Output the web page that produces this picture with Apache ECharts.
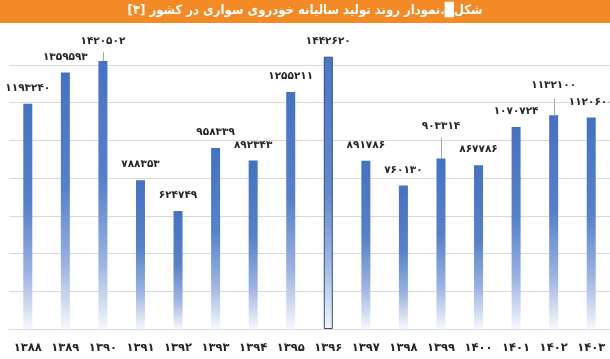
<!DOCTYPE html>
<html>
<head>
<meta charset="utf-8">
<script src="https://cdn.jsdelivr.net/npm/echarts@6/dist/echarts.min.js"></script>
<style>html,body{margin:0;padding:0;background:#fff}#c{width:610px;height:359px}</style>
</head>
<body>
<div id="c"></div>
<script>
const titleText = 'شکل█.نمودار روند تولید سالیانه خودروی سواری در کشور [۳]';
const years = ['1388','1389','1390','1391','1392','1393','1394','1395','1396','1397','1398','1399','1400','1401','1402','1403'];
const production = [1193240, 1359593, 1420502, 788353, 624749, 958339, 892343, 1255211, 1442620, 891786, 760130, 903314, 867786, 1070724, 1132100, 1120600];
const yMin = 0, yMax = 1600000, yInterval = 200000;
const highlighted = 8;
// label distance (px) overrides and leader line lengths (px)
const labelDist = {2: 14, 11: 27, 14: 25};
const leaderLen = {2: 9, 11: 21, 14: 17};

const toFa = s => String(s).replace(/\d/g, d => '۰۱۲۳۴۵۶۷۸۹'[d]);
const FONT = 'DejaVu Sans';

const grad = (light) => new echarts.graphic.LinearGradient(0, 0, 0, 1, light ? [
  {offset: 0, color: '#4a77c7'}, {offset: 0.5, color: '#6288d0'}, {offset: 0.78, color: '#a6bde6'}, {offset: 1, color: '#f3f6fc'}
] : [
  {offset: 0, color: '#4472C4'}, {offset: 0.45, color: '#5580cb'}, {offset: 0.75, color: '#9ab3e2'}, {offset: 1, color: '#f6f8fd'}
]);

const barData = production.map((v, i) => {
  const item = {value: v, itemStyle: {color: grad(i === highlighted)}};
  if (i === highlighted) { item.itemStyle.borderColor = '#2F4F80'; item.itemStyle.borderWidth = 1; }
  item.label = {distance: labelDist[i] !== undefined ? labelDist[i] : 10};
  return item;
});

const chart = echarts.init(document.getElementById('c'), null, {renderer: 'canvas'});
chart.setOption({
  animation: false,
  backgroundColor: '#fff',
  graphic: [
    {type: 'rect', left: 0, top: 0, shape: {width: 610, height: 23}, style: {fill: '#F38A26'}, z: 10},
    {type: 'text', left: 'center', top: 4, z: 11,
     style: {text: '\u200F' + titleText + '\u200F', fill: '#fff', font: 'bold 13px "DejaVu Sans Condensed"'}}
  ],
  grid: {left: 9, width: 604, top: 27, bottom: 30, containLabel: false},
  xAxis: {
    type: 'category', data: years,
    axisLine: {lineStyle: {color: '#d9d9d9', width: 1}},
    axisTick: {show: false},
    axisLabel: {interval: 0, hideOverlap: false, formatter: v => toFa(v), color: '#262626', fontFamily: FONT, fontWeight: 'bold', fontSize: 11.5, margin: 13}
  },
  yAxis: {
    type: 'value', min: yMin, max: yMax, interval: yInterval,
    axisLine: {show: false}, axisTick: {show: false}, axisLabel: {show: false},
    splitLine: {lineStyle: {color: ['#d9d9d9','#d9d9d9','#d9d9d9','#d9d9d9','#d9d9d9','#d9d9d9','#d9d9d9','#d9d9d9','rgba(0,0,0,0)'], width: 1}}
  },
  series: [
    {
      type: 'bar', data: barData, barWidth: 9,
      label: {show: true, position: 'top', formatter: p => toFa(p.value), color: '#262626',
              fontFamily: FONT, fontWeight: 'bold', fontSize: 10.5}
    },
    {
      type: 'custom', z: 1,
      data: Object.keys(leaderLen).map(k => [Number(k), production[Number(k)]]),
      renderItem: (params, api) => {
        const idx = api.value(0);
        const p = api.coord([idx, api.value(1)]);
        const x = Math.round(p[0]) + 0.5;
        return {type: 'line', shape: {x1: x, y1: p[1], x2: x, y2: p[1] - leaderLen[idx]},
                style: {stroke: '#a6a6a6', lineWidth: 1}};
      }
    }
  ]
});
</script>
</body>
</html>
